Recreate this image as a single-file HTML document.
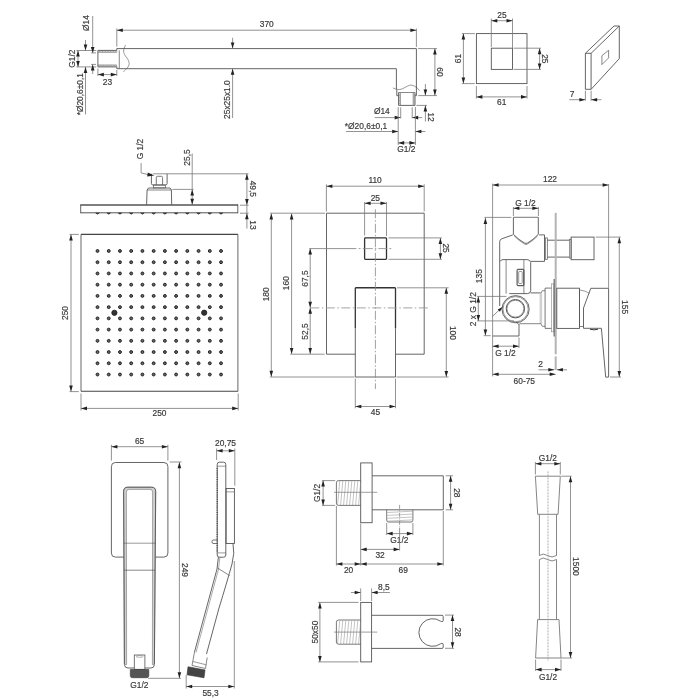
<!DOCTYPE html>
<html><head><meta charset="utf-8"><style>
html,body{margin:0;padding:0;background:#fff;width:700px;height:700px;overflow:hidden}
svg{display:block;will-change:transform}
text{font-family:"Liberation Sans",sans-serif;stroke:#444;stroke-width:0.18px}
</style></head><body>
<svg width="700" height="700" viewBox="0 0 700 700">

<line x1="97.9" y1="50.4" x2="116.8" y2="50.4" stroke="#555" stroke-width="0.9"/>
<line x1="97.9" y1="66.9" x2="116.8" y2="66.9" stroke="#555" stroke-width="0.9"/>
<line x1="97.9" y1="52.3" x2="116.8" y2="52.3" stroke="#555" stroke-width="0.6"/>
<line x1="97.9" y1="65.0" x2="116.8" y2="65.0" stroke="#555" stroke-width="0.6"/>
<line x1="98.5" y1="50.6" x2="99.7" y2="52.1" stroke="#555" stroke-width="0.5"/>
<line x1="98.5" y1="65.2" x2="99.7" y2="66.7" stroke="#555" stroke-width="0.5"/>
<line x1="100.1" y1="50.6" x2="101.3" y2="52.1" stroke="#555" stroke-width="0.5"/>
<line x1="100.1" y1="65.2" x2="101.3" y2="66.7" stroke="#555" stroke-width="0.5"/>
<line x1="101.7" y1="50.6" x2="102.9" y2="52.1" stroke="#555" stroke-width="0.5"/>
<line x1="101.7" y1="65.2" x2="102.9" y2="66.7" stroke="#555" stroke-width="0.5"/>
<line x1="103.3" y1="50.6" x2="104.5" y2="52.1" stroke="#555" stroke-width="0.5"/>
<line x1="103.3" y1="65.2" x2="104.5" y2="66.7" stroke="#555" stroke-width="0.5"/>
<line x1="104.9" y1="50.6" x2="106.10000000000001" y2="52.1" stroke="#555" stroke-width="0.5"/>
<line x1="104.9" y1="65.2" x2="106.10000000000001" y2="66.7" stroke="#555" stroke-width="0.5"/>
<line x1="106.5" y1="50.6" x2="107.7" y2="52.1" stroke="#555" stroke-width="0.5"/>
<line x1="106.5" y1="65.2" x2="107.7" y2="66.7" stroke="#555" stroke-width="0.5"/>
<line x1="108.1" y1="50.6" x2="109.3" y2="52.1" stroke="#555" stroke-width="0.5"/>
<line x1="108.1" y1="65.2" x2="109.3" y2="66.7" stroke="#555" stroke-width="0.5"/>
<line x1="109.7" y1="50.6" x2="110.9" y2="52.1" stroke="#555" stroke-width="0.5"/>
<line x1="109.7" y1="65.2" x2="110.9" y2="66.7" stroke="#555" stroke-width="0.5"/>
<line x1="111.3" y1="50.6" x2="112.5" y2="52.1" stroke="#555" stroke-width="0.5"/>
<line x1="111.3" y1="65.2" x2="112.5" y2="66.7" stroke="#555" stroke-width="0.5"/>
<line x1="112.9" y1="50.6" x2="114.10000000000001" y2="52.1" stroke="#555" stroke-width="0.5"/>
<line x1="112.9" y1="65.2" x2="114.10000000000001" y2="66.7" stroke="#555" stroke-width="0.5"/>
<line x1="114.5" y1="50.6" x2="115.7" y2="52.1" stroke="#555" stroke-width="0.5"/>
<line x1="114.5" y1="65.2" x2="115.7" y2="66.7" stroke="#555" stroke-width="0.5"/>
<line x1="116.1" y1="50.6" x2="117.3" y2="52.1" stroke="#555" stroke-width="0.5"/>
<line x1="116.1" y1="65.2" x2="117.3" y2="66.7" stroke="#555" stroke-width="0.5"/>
<line x1="97.9" y1="50.4" x2="97.9" y2="66.9" stroke="#555" stroke-width="0.9"/>
<line x1="116.8" y1="48.6" x2="116.8" y2="50.4" stroke="#555" stroke-width="0.9"/>
<line x1="116.8" y1="66.9" x2="116.8" y2="68.7" stroke="#555" stroke-width="0.9"/>
<line x1="119.3" y1="50.4" x2="119.3" y2="68.7" stroke="#555" stroke-width="0.7"/>
<line x1="116.8" y1="48.6" x2="416.4" y2="48.6" stroke="#555" stroke-width="0.9"/>
<line x1="116.8" y1="68.7" x2="396.4" y2="68.7" stroke="#555" stroke-width="0.9"/>
<line x1="416.4" y1="48.6" x2="416.4" y2="88" stroke="#555" stroke-width="0.9"/>
<line x1="396.4" y1="68.7" x2="396.4" y2="89.5" stroke="#555" stroke-width="0.9"/>
<path d="M125.5,45 C123,50 123,52.5 125.5,56 C129.5,61 130,64 128,67 C126.5,69 124.5,70.5 123.5,71.8" fill="none" stroke="#555" stroke-width="0.6"/>
<path d="M392.9,87.9 C396,89.5 399,90 402,89 C406,87 409,85 411,85 C414,85.5 417,87 419.6,90.7" fill="none" stroke="#555" stroke-width="0.6"/>
<line x1="396.8" y1="89.6" x2="396.8" y2="95.7" stroke="#555" stroke-width="0.9"/>
<line x1="416.4" y1="87.1" x2="416.4" y2="95.7" stroke="#555" stroke-width="0.9"/>
<line x1="396.8" y1="95.7" x2="398.6" y2="95.7" stroke="#555" stroke-width="0.9"/>
<line x1="415" y1="95.7" x2="416.4" y2="95.7" stroke="#555" stroke-width="0.9"/>
<line x1="398.6" y1="92.5" x2="415" y2="92.5" stroke="#555" stroke-width="0.7"/>
<line x1="398.6" y1="92.5" x2="398.6" y2="105.4" stroke="#555" stroke-width="0.9"/>
<line x1="415" y1="92.5" x2="415" y2="105.4" stroke="#555" stroke-width="0.9"/>
<line x1="398.6" y1="105.4" x2="415" y2="105.4" stroke="#555" stroke-width="0.9"/>
<line x1="400.4" y1="93" x2="400.4" y2="105" stroke="#555" stroke-width="0.6"/>
<line x1="413.2" y1="93" x2="413.2" y2="105" stroke="#555" stroke-width="0.6"/>
<line x1="398.8" y1="93.5" x2="400.2" y2="94.7" stroke="#555" stroke-width="0.5"/>
<line x1="413.4" y1="93.5" x2="414.8" y2="94.7" stroke="#555" stroke-width="0.5"/>
<line x1="398.8" y1="95.1" x2="400.2" y2="96.3" stroke="#555" stroke-width="0.5"/>
<line x1="413.4" y1="95.1" x2="414.8" y2="96.3" stroke="#555" stroke-width="0.5"/>
<line x1="398.8" y1="96.7" x2="400.2" y2="97.9" stroke="#555" stroke-width="0.5"/>
<line x1="413.4" y1="96.7" x2="414.8" y2="97.9" stroke="#555" stroke-width="0.5"/>
<line x1="398.8" y1="98.3" x2="400.2" y2="99.5" stroke="#555" stroke-width="0.5"/>
<line x1="413.4" y1="98.3" x2="414.8" y2="99.5" stroke="#555" stroke-width="0.5"/>
<line x1="398.8" y1="99.9" x2="400.2" y2="101.10000000000001" stroke="#555" stroke-width="0.5"/>
<line x1="413.4" y1="99.9" x2="414.8" y2="101.10000000000001" stroke="#555" stroke-width="0.5"/>
<line x1="398.8" y1="101.5" x2="400.2" y2="102.7" stroke="#555" stroke-width="0.5"/>
<line x1="413.4" y1="101.5" x2="414.8" y2="102.7" stroke="#555" stroke-width="0.5"/>
<line x1="398.8" y1="103.1" x2="400.2" y2="104.3" stroke="#555" stroke-width="0.5"/>
<line x1="413.4" y1="103.1" x2="414.8" y2="104.3" stroke="#555" stroke-width="0.5"/>
<line x1="76.4" y1="50.5" x2="96.3" y2="50.5" stroke="#777" stroke-width="0.8"/>
<line x1="76.4" y1="66.9" x2="96.3" y2="66.9" stroke="#777" stroke-width="0.8"/>
<line x1="78" y1="50.5" x2="78" y2="66.9" stroke="#777" stroke-width="0.8"/>
<polygon points="78.00,50.50 76.20,56.50 79.80,56.50" fill="#222"/>
<polygon points="78.00,66.90 76.20,60.90 79.80,60.90" fill="#222"/>
<text transform="translate(72,58.6) rotate(-90)" x="0" y="3.02" font-size="8.4" text-anchor="middle" fill="#333">G1/2</text>
<line x1="85.5" y1="40" x2="85.5" y2="50.5" stroke="#777" stroke-width="0.8"/>
<polygon points="85.50,50.50 83.70,44.50 87.30,44.50" fill="#222"/>
<line x1="85.5" y1="66.9" x2="85.5" y2="114.4" stroke="#777" stroke-width="0.8"/>
<polygon points="85.50,66.90 83.70,72.90 87.30,72.90" fill="#222"/>
<text transform="translate(79.6,94.2) rotate(-90)" x="0" y="3.02" font-size="8.4" text-anchor="middle" fill="#333">*Ø20,6±0,1</text>
<line x1="91.2" y1="52.9" x2="96" y2="52.9" stroke="#777" stroke-width="0.8"/>
<line x1="91.2" y1="64.4" x2="96" y2="64.4" stroke="#777" stroke-width="0.8"/>
<line x1="92.7" y1="16" x2="92.7" y2="52.9" stroke="#777" stroke-width="0.8"/>
<polygon points="92.70,52.90 90.90,46.90 94.50,46.90" fill="#222"/>
<line x1="92.7" y1="64.4" x2="92.7" y2="74" stroke="#777" stroke-width="0.8"/>
<polygon points="92.70,64.40 90.90,70.40 94.50,70.40" fill="#222"/>
<text transform="translate(86.4,23) rotate(-90)" x="0" y="3.02" font-size="8.4" text-anchor="middle" fill="#333">Ø14</text>
<line x1="97.9" y1="68.5" x2="97.9" y2="76" stroke="#777" stroke-width="0.8"/>
<line x1="116.8" y1="70" x2="116.8" y2="76" stroke="#777" stroke-width="0.8"/>
<line x1="97.9" y1="74.6" x2="116.8" y2="74.6" stroke="#777" stroke-width="0.8"/>
<polygon points="97.90,74.60 103.90,72.80 103.90,76.40" fill="#222"/>
<polygon points="116.80,74.60 110.80,72.80 110.80,76.40" fill="#222"/>
<text x="107.4" y="85.32" font-size="8.4" text-anchor="middle" fill="#333">23</text>
<line x1="116.8" y1="28.5" x2="116.8" y2="46.6" stroke="#777" stroke-width="0.8"/>
<line x1="416.4" y1="28.5" x2="416.4" y2="47" stroke="#777" stroke-width="0.8"/>
<line x1="116.8" y1="30.2" x2="416.4" y2="30.2" stroke="#777" stroke-width="0.8"/>
<polygon points="116.80,30.20 122.80,28.40 122.80,32.00" fill="#222"/>
<polygon points="416.40,30.20 410.40,28.40 410.40,32.00" fill="#222"/>
<text x="266.8" y="27.22" font-size="8.4" text-anchor="middle" fill="#333">370</text>
<line x1="232.6" y1="37.8" x2="232.6" y2="48.6" stroke="#777" stroke-width="0.8"/>
<polygon points="232.60,48.60 230.80,42.60 234.40,42.60" fill="#222"/>
<line x1="232.6" y1="68.7" x2="232.6" y2="118" stroke="#777" stroke-width="0.8"/>
<polygon points="232.60,68.70 230.80,74.70 234.40,74.70" fill="#222"/>
<text transform="translate(227,99.6) rotate(-90)" x="0" y="3.02" font-size="8.4" text-anchor="middle" fill="#333">25x25x1.0</text>
<line x1="418" y1="48.6" x2="437" y2="48.6" stroke="#777" stroke-width="0.8"/>
<line x1="418.2" y1="95.6" x2="437" y2="95.6" stroke="#777" stroke-width="0.8"/>
<line x1="434.9" y1="48.6" x2="434.9" y2="95.6" stroke="#777" stroke-width="0.8"/>
<polygon points="434.90,48.60 433.10,54.60 436.70,54.60" fill="#222"/>
<polygon points="434.90,95.60 433.10,89.60 436.70,89.60" fill="#222"/>
<text transform="translate(440.3,72) rotate(90)" x="0" y="3.02" font-size="8.4" text-anchor="middle" fill="#333">60</text>
<line x1="425.4" y1="84" x2="425.4" y2="95.6" stroke="#777" stroke-width="0.8"/>
<polygon points="425.40,95.60 423.60,89.60 427.20,89.60" fill="#222"/>
<line x1="416.4" y1="105.4" x2="427" y2="105.4" stroke="#777" stroke-width="0.8"/>
<line x1="425.4" y1="105.4" x2="425.4" y2="121.5" stroke="#777" stroke-width="0.8"/>
<polygon points="425.40,105.40 423.60,111.40 427.20,111.40" fill="#222"/>
<text transform="translate(430.7,117.1) rotate(90)" x="0" y="3.02" font-size="8.4" text-anchor="middle" fill="#333">12</text>
<line x1="400.7" y1="107.3" x2="400.7" y2="118.4" stroke="#777" stroke-width="0.8"/>
<line x1="412.2" y1="107.3" x2="412.2" y2="118.4" stroke="#777" stroke-width="0.8"/>
<line x1="374.7" y1="117.6" x2="400.7" y2="117.6" stroke="#777" stroke-width="0.8"/>
<polygon points="400.70,117.60 394.70,115.80 394.70,119.40" fill="#222"/>
<line x1="412.2" y1="117.6" x2="422.3" y2="117.6" stroke="#777" stroke-width="0.8"/>
<polygon points="412.20,117.60 418.20,115.80 418.20,119.40" fill="#222"/>
<text x="381.8" y="114.42" font-size="8.4" text-anchor="middle" fill="#333">Ø14</text>
<line x1="398.2" y1="107.1" x2="398.2" y2="145" stroke="#777" stroke-width="0.8"/>
<line x1="415.4" y1="107.1" x2="415.4" y2="145" stroke="#777" stroke-width="0.8"/>
<line x1="346" y1="131.5" x2="398.2" y2="131.5" stroke="#777" stroke-width="0.8"/>
<polygon points="398.20,131.50 392.20,129.70 392.20,133.30" fill="#222"/>
<line x1="415.4" y1="131.5" x2="425.4" y2="131.5" stroke="#777" stroke-width="0.8"/>
<polygon points="415.40,131.50 421.40,129.70 421.40,133.30" fill="#222"/>
<text x="366" y="128.72" font-size="8.4" text-anchor="middle" fill="#333">*Ø20,6±0,1</text>
<line x1="398.2" y1="142.9" x2="415.4" y2="142.9" stroke="#777" stroke-width="0.8"/>
<polygon points="398.20,142.90 404.20,141.10 404.20,144.70" fill="#222"/>
<polygon points="415.40,142.90 409.40,141.10 409.40,144.70" fill="#222"/>
<text x="406.3" y="151.52" font-size="8.4" text-anchor="middle" fill="#333">G1/2</text>
<rect x="476.4" y="33.6" width="50.60000000000002" height="49.99999999999999" fill="none" stroke="#555" stroke-width="0.9"/>
<rect x="491.3" y="48.2" width="21.19999999999999" height="21.200000000000003" fill="none" stroke="#555" stroke-width="0.9"/>
<line x1="491.3" y1="18.5" x2="491.3" y2="47" stroke="#777" stroke-width="0.8"/>
<line x1="512.5" y1="18.5" x2="512.5" y2="48" stroke="#777" stroke-width="0.8"/>
<line x1="491.3" y1="20.7" x2="512.5" y2="20.7" stroke="#777" stroke-width="0.8"/>
<polygon points="491.30,20.70 497.30,18.90 497.30,22.50" fill="#222"/>
<polygon points="512.50,20.70 506.50,18.90 506.50,22.50" fill="#222"/>
<text x="501.9" y="18.22" font-size="8.4" text-anchor="middle" fill="#333">25</text>
<line x1="513.6" y1="48.2" x2="541" y2="48.2" stroke="#777" stroke-width="0.8"/>
<line x1="513.6" y1="69.4" x2="541" y2="69.4" stroke="#777" stroke-width="0.8"/>
<line x1="539.6" y1="48.2" x2="539.6" y2="69.4" stroke="#777" stroke-width="0.8"/>
<polygon points="539.60,48.20 537.80,54.20 541.40,54.20" fill="#222"/>
<polygon points="539.60,69.40 537.80,63.40 541.40,63.40" fill="#222"/>
<text transform="translate(545,58.8) rotate(90)" x="0" y="3.02" font-size="8.4" text-anchor="middle" fill="#333">25</text>
<line x1="461.8" y1="33.6" x2="474.8" y2="33.6" stroke="#777" stroke-width="0.8"/>
<line x1="461.8" y1="83.6" x2="474.8" y2="83.6" stroke="#777" stroke-width="0.8"/>
<line x1="463.4" y1="33.6" x2="463.4" y2="83.6" stroke="#777" stroke-width="0.8"/>
<polygon points="463.40,33.60 461.60,39.60 465.20,39.60" fill="#222"/>
<polygon points="463.40,83.60 461.60,77.60 465.20,77.60" fill="#222"/>
<text transform="translate(457.9,58.6) rotate(-90)" x="0" y="3.02" font-size="8.4" text-anchor="middle" fill="#333">61</text>
<line x1="476.4" y1="86" x2="476.4" y2="98.5" stroke="#777" stroke-width="0.8"/>
<line x1="527" y1="86" x2="527" y2="98.5" stroke="#777" stroke-width="0.8"/>
<line x1="476.4" y1="96.9" x2="527" y2="96.9" stroke="#777" stroke-width="0.8"/>
<polygon points="476.40,96.90 482.40,95.10 482.40,98.70" fill="#222"/>
<polygon points="527.00,96.90 521.00,95.10 521.00,98.70" fill="#222"/>
<text x="501.7" y="104.82" font-size="8.4" text-anchor="middle" fill="#333">61</text>
<polygon points="585.4,53.3 591.1,53.3 591.1,89.3 585.4,89.3" fill="none" stroke="#555" stroke-width="0.9"/>
<polyline points="585.4,53.3 614,26 619.3,26 591.1,53.3" fill="none" stroke="#555" stroke-width="0.9"/>
<polyline points="619.3,26 619.3,58.6 591.1,89.3" fill="none" stroke="#555" stroke-width="0.9"/>
<polygon points="601.9,55.7 608.6,50.3 608.6,57.9 601.9,64.6" fill="none" stroke="#555" stroke-width="0.7"/>
<line x1="585.4" y1="90.7" x2="585.4" y2="100.7" stroke="#777" stroke-width="0.8"/>
<line x1="591.1" y1="90.7" x2="591.1" y2="100.7" stroke="#777" stroke-width="0.8"/>
<line x1="569.3" y1="99.7" x2="585.4" y2="99.7" stroke="#777" stroke-width="0.8"/>
<polygon points="585.40,99.70 579.40,97.90 579.40,101.50" fill="#222"/>
<line x1="591.1" y1="99.7" x2="601.4" y2="99.7" stroke="#777" stroke-width="0.8"/>
<polygon points="591.10,99.70 597.10,97.90 597.10,101.50" fill="#222"/>
<text x="572" y="96.62" font-size="8.4" text-anchor="middle" fill="#333">7</text>
<line x1="80.5" y1="205" x2="238" y2="205" stroke="#555" stroke-width="1.4"/>
<line x1="80.5" y1="212.8" x2="238" y2="212.8" stroke="#555" stroke-width="1.0"/>
<line x1="80.7" y1="204.5" x2="80.7" y2="213.2" stroke="#555" stroke-width="0.9"/>
<line x1="237.8" y1="204.5" x2="237.8" y2="213.2" stroke="#555" stroke-width="0.9"/>
<path d="M95.7,212.9 Q97.5,215.6 99.3,212.9 Z" fill="#444" stroke="#333" stroke-width="0.5"/>
<path d="M106.93,212.9 Q108.73,215.6 110.53,212.9 Z" fill="#444" stroke="#333" stroke-width="0.5"/>
<path d="M118.16000000000001,212.9 Q119.96000000000001,215.6 121.76,212.9 Z" fill="#444" stroke="#333" stroke-width="0.5"/>
<path d="M129.39,212.9 Q131.19,215.6 132.99,212.9 Z" fill="#444" stroke="#333" stroke-width="0.5"/>
<path d="M140.62,212.9 Q142.42000000000002,215.6 144.22000000000003,212.9 Z" fill="#444" stroke="#333" stroke-width="0.5"/>
<path d="M151.85,212.9 Q153.65,215.6 155.45000000000002,212.9 Z" fill="#444" stroke="#333" stroke-width="0.5"/>
<path d="M163.07999999999998,212.9 Q164.88,215.6 166.68,212.9 Z" fill="#444" stroke="#333" stroke-width="0.5"/>
<path d="M174.31,212.9 Q176.11,215.6 177.91000000000003,212.9 Z" fill="#444" stroke="#333" stroke-width="0.5"/>
<path d="M185.54,212.9 Q187.34,215.6 189.14000000000001,212.9 Z" fill="#444" stroke="#333" stroke-width="0.5"/>
<path d="M196.76999999999998,212.9 Q198.57,215.6 200.37,212.9 Z" fill="#444" stroke="#333" stroke-width="0.5"/>
<path d="M208.0,212.9 Q209.8,215.6 211.60000000000002,212.9 Z" fill="#444" stroke="#333" stroke-width="0.5"/>
<path d="M219.23,212.9 Q221.03,215.6 222.83,212.9 Z" fill="#444" stroke="#333" stroke-width="0.5"/>
<polyline points="146.6,204.7 147.1,190 148.5,188 170,188 171.4,190 171.7,204.7" fill="none" stroke="#555" stroke-width="0.9"/>
<line x1="147.1" y1="190" x2="171.4" y2="190" stroke="#555" stroke-width="0.7"/>
<rect x="153.4" y="185.1" width="12.0" height="2.8000000000000114" fill="none" stroke="#555" stroke-width="0.7"/>
<path d="M151.4,173.8 L151.4,183.5 Q151.4,184.9 152.8,184.9 L165.7,184.9 Q167.1,184.9 167.1,183.5 L167.1,173.8" fill="none" stroke="#555" stroke-width="0.9"/>
<path d="M156.3,184.9 L156.3,177.5 Q156.3,176.3 157.5,176.3 L161.4,176.3 Q162.6,176.3 162.6,177.5 L162.6,184.9" fill="none" stroke="#555" stroke-width="0.8"/>
<line x1="141.1" y1="163" x2="141.1" y2="172.9" stroke="#777" stroke-width="0.8"/>
<line x1="141.1" y1="172.9" x2="149" y2="174.8" stroke="#777" stroke-width="0.8"/>
<polygon points="154.3,175.6 147.8,172.6 147.2,176.6" fill="#222"/>
<text transform="translate(140.4,149) rotate(-90)" x="0" y="3.02" font-size="8.4" text-anchor="middle" fill="#333">G 1/2</text>
<line x1="153" y1="173.8" x2="248.5" y2="173.8" stroke="#777" stroke-width="0.8"/>
<line x1="172.3" y1="189.4" x2="193.5" y2="189.4" stroke="#777" stroke-width="0.8"/>
<line x1="192.2" y1="153.5" x2="192.2" y2="204.7" stroke="#777" stroke-width="0.8"/>
<polygon points="192.20,189.40 190.40,195.40 194.00,195.40" fill="#222"/>
<polygon points="192.20,204.70 190.40,198.70 194.00,198.70" fill="#222"/>
<text transform="translate(187,157.5) rotate(-90)" x="0" y="3.02" font-size="8.4" text-anchor="middle" fill="#333">25,5</text>
<line x1="240" y1="205.2" x2="248.6" y2="205.2" stroke="#777" stroke-width="0.8"/>
<line x1="240" y1="213.2" x2="248.6" y2="213.2" stroke="#777" stroke-width="0.8"/>
<line x1="246.9" y1="205" x2="246.9" y2="213.3" stroke="#777" stroke-width="0.8"/>
<line x1="246.9" y1="173.8" x2="246.9" y2="205" stroke="#777" stroke-width="0.8"/>
<polygon points="246.90,173.80 245.10,179.80 248.70,179.80" fill="#222"/>
<polygon points="246.90,205.00 245.10,199.00 248.70,199.00" fill="#222"/>
<line x1="246.9" y1="213.3" x2="246.9" y2="228.6" stroke="#777" stroke-width="0.8"/>
<polygon points="246.90,213.30 245.10,219.30 248.70,219.30" fill="#222"/>
<text transform="translate(252.6,188.8) rotate(90)" x="0" y="3.02" font-size="8.4" text-anchor="middle" fill="#333">49,5</text>
<text transform="translate(252.6,225) rotate(90)" x="0" y="3.02" font-size="8.4" text-anchor="middle" fill="#333">13</text>
<line x1="81" y1="234.4" x2="237.9" y2="234.4" stroke="#444" stroke-width="1.1"/>
<line x1="81" y1="391.3" x2="237.9" y2="391.3" stroke="#444" stroke-width="1.1"/>
<line x1="81" y1="234.4" x2="81" y2="391.3" stroke="#555" stroke-width="0.9"/>
<line x1="237.9" y1="234.4" x2="237.9" y2="391.3" stroke="#555" stroke-width="0.9"/>
<circle cx="97.5" cy="251.0" r="1.45" fill="#666" stroke="#222" stroke-width="1.0"/>
<circle cx="108.73" cy="251.0" r="1.45" fill="#666" stroke="#222" stroke-width="1.0"/>
<circle cx="119.96000000000001" cy="251.0" r="1.45" fill="#666" stroke="#222" stroke-width="1.0"/>
<circle cx="131.19" cy="251.0" r="1.45" fill="#666" stroke="#222" stroke-width="1.0"/>
<circle cx="142.42000000000002" cy="251.0" r="1.45" fill="#666" stroke="#222" stroke-width="1.0"/>
<circle cx="153.65" cy="251.0" r="1.45" fill="#666" stroke="#222" stroke-width="1.0"/>
<circle cx="164.88" cy="251.0" r="1.45" fill="#666" stroke="#222" stroke-width="1.0"/>
<circle cx="176.11" cy="251.0" r="1.45" fill="#666" stroke="#222" stroke-width="1.0"/>
<circle cx="187.34" cy="251.0" r="1.45" fill="#666" stroke="#222" stroke-width="1.0"/>
<circle cx="198.57" cy="251.0" r="1.45" fill="#666" stroke="#222" stroke-width="1.0"/>
<circle cx="209.8" cy="251.0" r="1.45" fill="#666" stroke="#222" stroke-width="1.0"/>
<circle cx="221.03" cy="251.0" r="1.45" fill="#666" stroke="#222" stroke-width="1.0"/>
<circle cx="97.5" cy="262.23" r="1.45" fill="#666" stroke="#222" stroke-width="1.0"/>
<circle cx="108.73" cy="262.23" r="1.45" fill="#666" stroke="#222" stroke-width="1.0"/>
<circle cx="119.96000000000001" cy="262.23" r="1.45" fill="#666" stroke="#222" stroke-width="1.0"/>
<circle cx="131.19" cy="262.23" r="1.45" fill="#666" stroke="#222" stroke-width="1.0"/>
<circle cx="142.42000000000002" cy="262.23" r="1.45" fill="#666" stroke="#222" stroke-width="1.0"/>
<circle cx="153.65" cy="262.23" r="1.45" fill="#666" stroke="#222" stroke-width="1.0"/>
<circle cx="164.88" cy="262.23" r="1.45" fill="#666" stroke="#222" stroke-width="1.0"/>
<circle cx="176.11" cy="262.23" r="1.45" fill="#666" stroke="#222" stroke-width="1.0"/>
<circle cx="187.34" cy="262.23" r="1.45" fill="#666" stroke="#222" stroke-width="1.0"/>
<circle cx="198.57" cy="262.23" r="1.45" fill="#666" stroke="#222" stroke-width="1.0"/>
<circle cx="209.8" cy="262.23" r="1.45" fill="#666" stroke="#222" stroke-width="1.0"/>
<circle cx="221.03" cy="262.23" r="1.45" fill="#666" stroke="#222" stroke-width="1.0"/>
<circle cx="97.5" cy="273.46" r="1.45" fill="#666" stroke="#222" stroke-width="1.0"/>
<circle cx="108.73" cy="273.46" r="1.45" fill="#666" stroke="#222" stroke-width="1.0"/>
<circle cx="119.96000000000001" cy="273.46" r="1.45" fill="#666" stroke="#222" stroke-width="1.0"/>
<circle cx="131.19" cy="273.46" r="1.45" fill="#666" stroke="#222" stroke-width="1.0"/>
<circle cx="142.42000000000002" cy="273.46" r="1.45" fill="#666" stroke="#222" stroke-width="1.0"/>
<circle cx="153.65" cy="273.46" r="1.45" fill="#666" stroke="#222" stroke-width="1.0"/>
<circle cx="164.88" cy="273.46" r="1.45" fill="#666" stroke="#222" stroke-width="1.0"/>
<circle cx="176.11" cy="273.46" r="1.45" fill="#666" stroke="#222" stroke-width="1.0"/>
<circle cx="187.34" cy="273.46" r="1.45" fill="#666" stroke="#222" stroke-width="1.0"/>
<circle cx="198.57" cy="273.46" r="1.45" fill="#666" stroke="#222" stroke-width="1.0"/>
<circle cx="209.8" cy="273.46" r="1.45" fill="#666" stroke="#222" stroke-width="1.0"/>
<circle cx="221.03" cy="273.46" r="1.45" fill="#666" stroke="#222" stroke-width="1.0"/>
<circle cx="97.5" cy="284.69" r="1.45" fill="#666" stroke="#222" stroke-width="1.0"/>
<circle cx="108.73" cy="284.69" r="1.45" fill="#666" stroke="#222" stroke-width="1.0"/>
<circle cx="119.96000000000001" cy="284.69" r="1.45" fill="#666" stroke="#222" stroke-width="1.0"/>
<circle cx="131.19" cy="284.69" r="1.45" fill="#666" stroke="#222" stroke-width="1.0"/>
<circle cx="142.42000000000002" cy="284.69" r="1.45" fill="#666" stroke="#222" stroke-width="1.0"/>
<circle cx="153.65" cy="284.69" r="1.45" fill="#666" stroke="#222" stroke-width="1.0"/>
<circle cx="164.88" cy="284.69" r="1.45" fill="#666" stroke="#222" stroke-width="1.0"/>
<circle cx="176.11" cy="284.69" r="1.45" fill="#666" stroke="#222" stroke-width="1.0"/>
<circle cx="187.34" cy="284.69" r="1.45" fill="#666" stroke="#222" stroke-width="1.0"/>
<circle cx="198.57" cy="284.69" r="1.45" fill="#666" stroke="#222" stroke-width="1.0"/>
<circle cx="209.8" cy="284.69" r="1.45" fill="#666" stroke="#222" stroke-width="1.0"/>
<circle cx="221.03" cy="284.69" r="1.45" fill="#666" stroke="#222" stroke-width="1.0"/>
<circle cx="97.5" cy="295.92" r="1.45" fill="#666" stroke="#222" stroke-width="1.0"/>
<circle cx="108.73" cy="295.92" r="1.45" fill="#666" stroke="#222" stroke-width="1.0"/>
<circle cx="119.96000000000001" cy="295.92" r="1.45" fill="#666" stroke="#222" stroke-width="1.0"/>
<circle cx="131.19" cy="295.92" r="1.45" fill="#666" stroke="#222" stroke-width="1.0"/>
<circle cx="142.42000000000002" cy="295.92" r="1.45" fill="#666" stroke="#222" stroke-width="1.0"/>
<circle cx="153.65" cy="295.92" r="1.45" fill="#666" stroke="#222" stroke-width="1.0"/>
<circle cx="164.88" cy="295.92" r="1.45" fill="#666" stroke="#222" stroke-width="1.0"/>
<circle cx="176.11" cy="295.92" r="1.45" fill="#666" stroke="#222" stroke-width="1.0"/>
<circle cx="187.34" cy="295.92" r="1.45" fill="#666" stroke="#222" stroke-width="1.0"/>
<circle cx="198.57" cy="295.92" r="1.45" fill="#666" stroke="#222" stroke-width="1.0"/>
<circle cx="209.8" cy="295.92" r="1.45" fill="#666" stroke="#222" stroke-width="1.0"/>
<circle cx="221.03" cy="295.92" r="1.45" fill="#666" stroke="#222" stroke-width="1.0"/>
<circle cx="97.5" cy="307.15" r="1.45" fill="#666" stroke="#222" stroke-width="1.0"/>
<circle cx="108.73" cy="307.15" r="1.45" fill="#666" stroke="#222" stroke-width="1.0"/>
<circle cx="119.96000000000001" cy="307.15" r="1.45" fill="#666" stroke="#222" stroke-width="1.0"/>
<circle cx="131.19" cy="307.15" r="1.45" fill="#666" stroke="#222" stroke-width="1.0"/>
<circle cx="142.42000000000002" cy="307.15" r="1.45" fill="#666" stroke="#222" stroke-width="1.0"/>
<circle cx="153.65" cy="307.15" r="1.45" fill="#666" stroke="#222" stroke-width="1.0"/>
<circle cx="164.88" cy="307.15" r="1.45" fill="#666" stroke="#222" stroke-width="1.0"/>
<circle cx="176.11" cy="307.15" r="1.45" fill="#666" stroke="#222" stroke-width="1.0"/>
<circle cx="187.34" cy="307.15" r="1.45" fill="#666" stroke="#222" stroke-width="1.0"/>
<circle cx="198.57" cy="307.15" r="1.45" fill="#666" stroke="#222" stroke-width="1.0"/>
<circle cx="209.8" cy="307.15" r="1.45" fill="#666" stroke="#222" stroke-width="1.0"/>
<circle cx="221.03" cy="307.15" r="1.45" fill="#666" stroke="#222" stroke-width="1.0"/>
<circle cx="97.5" cy="318.38" r="1.45" fill="#666" stroke="#222" stroke-width="1.0"/>
<circle cx="108.73" cy="318.38" r="1.45" fill="#666" stroke="#222" stroke-width="1.0"/>
<circle cx="119.96000000000001" cy="318.38" r="1.45" fill="#666" stroke="#222" stroke-width="1.0"/>
<circle cx="131.19" cy="318.38" r="1.45" fill="#666" stroke="#222" stroke-width="1.0"/>
<circle cx="142.42000000000002" cy="318.38" r="1.45" fill="#666" stroke="#222" stroke-width="1.0"/>
<circle cx="153.65" cy="318.38" r="1.45" fill="#666" stroke="#222" stroke-width="1.0"/>
<circle cx="164.88" cy="318.38" r="1.45" fill="#666" stroke="#222" stroke-width="1.0"/>
<circle cx="176.11" cy="318.38" r="1.45" fill="#666" stroke="#222" stroke-width="1.0"/>
<circle cx="187.34" cy="318.38" r="1.45" fill="#666" stroke="#222" stroke-width="1.0"/>
<circle cx="198.57" cy="318.38" r="1.45" fill="#666" stroke="#222" stroke-width="1.0"/>
<circle cx="209.8" cy="318.38" r="1.45" fill="#666" stroke="#222" stroke-width="1.0"/>
<circle cx="221.03" cy="318.38" r="1.45" fill="#666" stroke="#222" stroke-width="1.0"/>
<circle cx="97.5" cy="329.61" r="1.45" fill="#666" stroke="#222" stroke-width="1.0"/>
<circle cx="108.73" cy="329.61" r="1.45" fill="#666" stroke="#222" stroke-width="1.0"/>
<circle cx="119.96000000000001" cy="329.61" r="1.45" fill="#666" stroke="#222" stroke-width="1.0"/>
<circle cx="131.19" cy="329.61" r="1.45" fill="#666" stroke="#222" stroke-width="1.0"/>
<circle cx="142.42000000000002" cy="329.61" r="1.45" fill="#666" stroke="#222" stroke-width="1.0"/>
<circle cx="153.65" cy="329.61" r="1.45" fill="#666" stroke="#222" stroke-width="1.0"/>
<circle cx="164.88" cy="329.61" r="1.45" fill="#666" stroke="#222" stroke-width="1.0"/>
<circle cx="176.11" cy="329.61" r="1.45" fill="#666" stroke="#222" stroke-width="1.0"/>
<circle cx="187.34" cy="329.61" r="1.45" fill="#666" stroke="#222" stroke-width="1.0"/>
<circle cx="198.57" cy="329.61" r="1.45" fill="#666" stroke="#222" stroke-width="1.0"/>
<circle cx="209.8" cy="329.61" r="1.45" fill="#666" stroke="#222" stroke-width="1.0"/>
<circle cx="221.03" cy="329.61" r="1.45" fill="#666" stroke="#222" stroke-width="1.0"/>
<circle cx="97.5" cy="340.84000000000003" r="1.45" fill="#666" stroke="#222" stroke-width="1.0"/>
<circle cx="108.73" cy="340.84000000000003" r="1.45" fill="#666" stroke="#222" stroke-width="1.0"/>
<circle cx="119.96000000000001" cy="340.84000000000003" r="1.45" fill="#666" stroke="#222" stroke-width="1.0"/>
<circle cx="131.19" cy="340.84000000000003" r="1.45" fill="#666" stroke="#222" stroke-width="1.0"/>
<circle cx="142.42000000000002" cy="340.84000000000003" r="1.45" fill="#666" stroke="#222" stroke-width="1.0"/>
<circle cx="153.65" cy="340.84000000000003" r="1.45" fill="#666" stroke="#222" stroke-width="1.0"/>
<circle cx="164.88" cy="340.84000000000003" r="1.45" fill="#666" stroke="#222" stroke-width="1.0"/>
<circle cx="176.11" cy="340.84000000000003" r="1.45" fill="#666" stroke="#222" stroke-width="1.0"/>
<circle cx="187.34" cy="340.84000000000003" r="1.45" fill="#666" stroke="#222" stroke-width="1.0"/>
<circle cx="198.57" cy="340.84000000000003" r="1.45" fill="#666" stroke="#222" stroke-width="1.0"/>
<circle cx="209.8" cy="340.84000000000003" r="1.45" fill="#666" stroke="#222" stroke-width="1.0"/>
<circle cx="221.03" cy="340.84000000000003" r="1.45" fill="#666" stroke="#222" stroke-width="1.0"/>
<circle cx="97.5" cy="352.07" r="1.45" fill="#666" stroke="#222" stroke-width="1.0"/>
<circle cx="108.73" cy="352.07" r="1.45" fill="#666" stroke="#222" stroke-width="1.0"/>
<circle cx="119.96000000000001" cy="352.07" r="1.45" fill="#666" stroke="#222" stroke-width="1.0"/>
<circle cx="131.19" cy="352.07" r="1.45" fill="#666" stroke="#222" stroke-width="1.0"/>
<circle cx="142.42000000000002" cy="352.07" r="1.45" fill="#666" stroke="#222" stroke-width="1.0"/>
<circle cx="153.65" cy="352.07" r="1.45" fill="#666" stroke="#222" stroke-width="1.0"/>
<circle cx="164.88" cy="352.07" r="1.45" fill="#666" stroke="#222" stroke-width="1.0"/>
<circle cx="176.11" cy="352.07" r="1.45" fill="#666" stroke="#222" stroke-width="1.0"/>
<circle cx="187.34" cy="352.07" r="1.45" fill="#666" stroke="#222" stroke-width="1.0"/>
<circle cx="198.57" cy="352.07" r="1.45" fill="#666" stroke="#222" stroke-width="1.0"/>
<circle cx="209.8" cy="352.07" r="1.45" fill="#666" stroke="#222" stroke-width="1.0"/>
<circle cx="221.03" cy="352.07" r="1.45" fill="#666" stroke="#222" stroke-width="1.0"/>
<circle cx="97.5" cy="363.3" r="1.45" fill="#666" stroke="#222" stroke-width="1.0"/>
<circle cx="108.73" cy="363.3" r="1.45" fill="#666" stroke="#222" stroke-width="1.0"/>
<circle cx="119.96000000000001" cy="363.3" r="1.45" fill="#666" stroke="#222" stroke-width="1.0"/>
<circle cx="131.19" cy="363.3" r="1.45" fill="#666" stroke="#222" stroke-width="1.0"/>
<circle cx="142.42000000000002" cy="363.3" r="1.45" fill="#666" stroke="#222" stroke-width="1.0"/>
<circle cx="153.65" cy="363.3" r="1.45" fill="#666" stroke="#222" stroke-width="1.0"/>
<circle cx="164.88" cy="363.3" r="1.45" fill="#666" stroke="#222" stroke-width="1.0"/>
<circle cx="176.11" cy="363.3" r="1.45" fill="#666" stroke="#222" stroke-width="1.0"/>
<circle cx="187.34" cy="363.3" r="1.45" fill="#666" stroke="#222" stroke-width="1.0"/>
<circle cx="198.57" cy="363.3" r="1.45" fill="#666" stroke="#222" stroke-width="1.0"/>
<circle cx="209.8" cy="363.3" r="1.45" fill="#666" stroke="#222" stroke-width="1.0"/>
<circle cx="221.03" cy="363.3" r="1.45" fill="#666" stroke="#222" stroke-width="1.0"/>
<circle cx="97.5" cy="374.53" r="1.45" fill="#666" stroke="#222" stroke-width="1.0"/>
<circle cx="108.73" cy="374.53" r="1.45" fill="#666" stroke="#222" stroke-width="1.0"/>
<circle cx="119.96000000000001" cy="374.53" r="1.45" fill="#666" stroke="#222" stroke-width="1.0"/>
<circle cx="131.19" cy="374.53" r="1.45" fill="#666" stroke="#222" stroke-width="1.0"/>
<circle cx="142.42000000000002" cy="374.53" r="1.45" fill="#666" stroke="#222" stroke-width="1.0"/>
<circle cx="153.65" cy="374.53" r="1.45" fill="#666" stroke="#222" stroke-width="1.0"/>
<circle cx="164.88" cy="374.53" r="1.45" fill="#666" stroke="#222" stroke-width="1.0"/>
<circle cx="176.11" cy="374.53" r="1.45" fill="#666" stroke="#222" stroke-width="1.0"/>
<circle cx="187.34" cy="374.53" r="1.45" fill="#666" stroke="#222" stroke-width="1.0"/>
<circle cx="198.57" cy="374.53" r="1.45" fill="#666" stroke="#222" stroke-width="1.0"/>
<circle cx="209.8" cy="374.53" r="1.45" fill="#666" stroke="#222" stroke-width="1.0"/>
<circle cx="221.03" cy="374.53" r="1.45" fill="#666" stroke="#222" stroke-width="1.0"/>
<circle cx="114.4" cy="312.8" r="2.6" fill="#333" stroke="#222" stroke-width="0.9"/>
<circle cx="204.2" cy="312.7" r="2.6" fill="#333" stroke="#222" stroke-width="0.9"/>
<line x1="69.5" y1="234.4" x2="78.8" y2="234.4" stroke="#777" stroke-width="0.8"/>
<line x1="69.5" y1="391.6" x2="78.8" y2="391.6" stroke="#777" stroke-width="0.8"/>
<line x1="71" y1="234.4" x2="71" y2="391.6" stroke="#777" stroke-width="0.8"/>
<polygon points="71.00,234.40 69.20,240.40 72.80,240.40" fill="#222"/>
<polygon points="71.00,391.60 69.20,385.60 72.80,385.60" fill="#222"/>
<text transform="translate(65,313) rotate(-90)" x="0" y="3.02" font-size="8.4" text-anchor="middle" fill="#333">250</text>
<line x1="81" y1="393.5" x2="81" y2="410.5" stroke="#777" stroke-width="0.8"/>
<line x1="238.2" y1="393.5" x2="238.2" y2="410.5" stroke="#777" stroke-width="0.8"/>
<line x1="81" y1="408.4" x2="238.2" y2="408.4" stroke="#777" stroke-width="0.8"/>
<polygon points="81.00,408.40 87.00,406.60 87.00,410.20" fill="#222"/>
<polygon points="238.20,408.40 232.20,406.60 232.20,410.20" fill="#222"/>
<text x="159.5" y="416.02" font-size="8.4" text-anchor="middle" fill="#333">250</text>
<line x1="326.5" y1="213.2" x2="424.2" y2="213.2" stroke="#555" stroke-width="0.9"/>
<line x1="326.5" y1="213.2" x2="326.5" y2="354.2" stroke="#555" stroke-width="0.9"/>
<line x1="424.2" y1="213.2" x2="424.2" y2="354.2" stroke="#555" stroke-width="0.9"/>
<line x1="326.5" y1="354.2" x2="355.3" y2="354.2" stroke="#555" stroke-width="0.9"/>
<line x1="395.5" y1="354.2" x2="424.2" y2="354.2" stroke="#555" stroke-width="0.9"/>
<rect x="364.6" y="237.9" width="21.899999999999977" height="21.400000000000006" rx="0.8" fill="none" stroke="#333" stroke-width="1.3"/>
<line x1="355.3" y1="287.8" x2="395.5" y2="287.8" stroke="#333" stroke-width="1.4"/>
<line x1="355.3" y1="287.8" x2="355.3" y2="328.3" stroke="#333" stroke-width="1.3"/>
<line x1="395.5" y1="287.8" x2="395.5" y2="328.3" stroke="#333" stroke-width="1.3"/>
<line x1="355.3" y1="328.3" x2="355.3" y2="377" stroke="#555" stroke-width="0.9"/>
<line x1="395.5" y1="328.3" x2="395.5" y2="377" stroke="#555" stroke-width="0.9"/>
<line x1="355.3" y1="377" x2="395.5" y2="377" stroke="#555" stroke-width="0.9"/>
<line x1="375.4" y1="209.3" x2="375.4" y2="389" stroke="#888" stroke-width="0.8" stroke-dasharray="9 2 1.5 2"/>
<line x1="310.3" y1="307.9" x2="430.3" y2="307.9" stroke="#999" stroke-width="0.9" stroke-dasharray="9 2.5 1.5 2.5"/>
<line x1="309.3" y1="248.6" x2="356.4" y2="248.6" stroke="#777" stroke-width="0.8"/>
<line x1="358.6" y1="248.6" x2="391.4" y2="248.6" stroke="#888" stroke-width="0.8" stroke-dasharray="2 2.2 10 2 1.5 2 9 2"/>
<line x1="326.4" y1="184.3" x2="326.4" y2="211.5" stroke="#777" stroke-width="0.8"/>
<line x1="424.2" y1="184.3" x2="424.2" y2="211.5" stroke="#777" stroke-width="0.8"/>
<line x1="326.4" y1="186.2" x2="424.2" y2="186.2" stroke="#777" stroke-width="0.8"/>
<polygon points="326.40,186.20 332.40,184.40 332.40,188.00" fill="#222"/>
<polygon points="424.20,186.20 418.20,184.40 418.20,188.00" fill="#222"/>
<text x="375.1" y="183.22" font-size="8.4" text-anchor="middle" fill="#333">110</text>
<line x1="364.6" y1="202" x2="364.6" y2="235.5" stroke="#777" stroke-width="0.8"/>
<line x1="386.5" y1="202" x2="386.5" y2="236" stroke="#777" stroke-width="0.8"/>
<line x1="364.6" y1="203.3" x2="386.5" y2="203.3" stroke="#777" stroke-width="0.8"/>
<polygon points="364.60,203.30 370.60,201.50 370.60,205.10" fill="#222"/>
<polygon points="386.50,203.30 380.50,201.50 380.50,205.10" fill="#222"/>
<text x="375.3" y="200.52" font-size="8.4" text-anchor="middle" fill="#333">25</text>
<line x1="388.5" y1="237.9" x2="441.9" y2="237.9" stroke="#777" stroke-width="0.8"/>
<line x1="388.5" y1="259.3" x2="441.9" y2="259.3" stroke="#777" stroke-width="0.8"/>
<line x1="440.4" y1="237.9" x2="440.4" y2="259.3" stroke="#777" stroke-width="0.8"/>
<polygon points="440.40,237.90 438.60,243.90 442.20,243.90" fill="#222"/>
<polygon points="440.40,259.30 438.60,253.30 442.20,253.30" fill="#222"/>
<text transform="translate(445.9,248.1) rotate(90)" x="0" y="3.02" font-size="8.4" text-anchor="middle" fill="#333">25</text>
<line x1="397.1" y1="287.8" x2="448.6" y2="287.8" stroke="#777" stroke-width="0.8"/>
<line x1="396.5" y1="377" x2="448.6" y2="377" stroke="#777" stroke-width="0.8"/>
<line x1="446.3" y1="287.8" x2="446.3" y2="377" stroke="#777" stroke-width="0.8"/>
<polygon points="446.30,287.80 444.50,293.80 448.10,293.80" fill="#222"/>
<polygon points="446.30,377.00 444.50,371.00 448.10,371.00" fill="#222"/>
<text transform="translate(452.7,332.9) rotate(90)" x="0" y="3.02" font-size="8.4" text-anchor="middle" fill="#333">100</text>
<line x1="355.3" y1="378.6" x2="355.3" y2="408.3" stroke="#777" stroke-width="0.8"/>
<line x1="395.5" y1="378.6" x2="395.5" y2="408.3" stroke="#777" stroke-width="0.8"/>
<line x1="355.3" y1="406.5" x2="395.5" y2="406.5" stroke="#777" stroke-width="0.8"/>
<polygon points="355.30,406.50 361.30,404.70 361.30,408.30" fill="#222"/>
<polygon points="395.50,406.50 389.50,404.70 389.50,408.30" fill="#222"/>
<text x="375.4" y="414.52" font-size="8.4" text-anchor="middle" fill="#333">45</text>
<line x1="270" y1="213.2" x2="325" y2="213.2" stroke="#777" stroke-width="0.8"/>
<line x1="269.8" y1="377" x2="354.4" y2="377" stroke="#777" stroke-width="0.8"/>
<line x1="290.3" y1="354.2" x2="324.6" y2="354.2" stroke="#777" stroke-width="0.8"/>
<line x1="271.3" y1="213.6" x2="271.3" y2="376.8" stroke="#777" stroke-width="0.8"/>
<polygon points="271.30,213.60 269.50,219.60 273.10,219.60" fill="#222"/>
<polygon points="271.30,376.80 269.50,370.80 273.10,370.80" fill="#222"/>
<text transform="translate(265.6,294.3) rotate(-90)" x="0" y="3.02" font-size="8.4" text-anchor="middle" fill="#333">180</text>
<line x1="291.6" y1="213.6" x2="291.6" y2="353.9" stroke="#777" stroke-width="0.8"/>
<polygon points="291.60,213.60 289.80,219.60 293.40,219.60" fill="#222"/>
<polygon points="291.60,353.90 289.80,347.90 293.40,347.90" fill="#222"/>
<text transform="translate(286.2,283.2) rotate(-90)" x="0" y="3.02" font-size="8.4" text-anchor="middle" fill="#333">160</text>
<line x1="310.2" y1="248.6" x2="310.2" y2="307.8" stroke="#777" stroke-width="0.8"/>
<polygon points="310.20,248.60 308.40,254.60 312.00,254.60" fill="#222"/>
<polygon points="310.20,307.80 308.40,301.80 312.00,301.80" fill="#222"/>
<text transform="translate(305.1,278.6) rotate(-90)" x="0" y="3.02" font-size="8.4" text-anchor="middle" fill="#333">67,5</text>
<line x1="310.2" y1="307.8" x2="310.2" y2="353.9" stroke="#777" stroke-width="0.8"/>
<polygon points="310.20,307.80 308.40,313.80 312.00,313.80" fill="#222"/>
<polygon points="310.20,353.90 308.40,347.90 312.00,347.90" fill="#222"/>
<text transform="translate(305.1,331.5) rotate(-90)" x="0" y="3.02" font-size="8.4" text-anchor="middle" fill="#333">52,5</text>
<line x1="513.4" y1="217.3" x2="538.3" y2="217.3" stroke="#555" stroke-width="0.8"/>
<line x1="513.4" y1="217.3" x2="513.4" y2="234.4" stroke="#555" stroke-width="0.9"/>
<line x1="538.3" y1="217.3" x2="538.3" y2="234.4" stroke="#555" stroke-width="0.9"/>
<path d="M513.4,234.4 Q519,240 524.5,243 Q526,243.8 527.5,243 Q533,240 538.3,234.4" fill="none" stroke="#555" stroke-width="0.9"/>
<path d="M514.2,236 Q519.5,241.2 524.8,244.2 Q526,244.9 527.2,244.2 Q532.5,241.2 537.6,236" fill="none" stroke="#555" stroke-width="0.6"/>
<path d="M499.7,306 L499.7,241.5 Q499.7,239.5 502,238.7 L512.8,234.9" fill="none" stroke="#555" stroke-width="0.9"/>
<path d="M539.1,234.9 L544.5,234.9 L544.5,261.4 L531,261.4" fill="none" stroke="#555" stroke-width="0.9"/>
<rect x="545.3" y="237.9" width="2.0" height="21.400000000000006" fill="none" stroke="#555" stroke-width="0.7"/>
<line x1="547.3" y1="240.2" x2="569.3" y2="240.2" stroke="#555" stroke-width="0.9"/>
<line x1="547.3" y1="257.1" x2="569.3" y2="257.1" stroke="#555" stroke-width="0.9"/>
<rect x="569.3" y="239.2" width="1.8000000000000682" height="18.900000000000034" fill="none" stroke="#555" stroke-width="0.6"/>
<rect x="571.1" y="237.1" width="22.899999999999977" height="22.599999999999994" fill="none" stroke="#555" stroke-width="0.9"/>
<path d="M500,261.5 Q501,259.6 503,259.6 L527.1,259.6 Q530.7,259.8 530.7,262.5 L530.7,290.5 Q530.7,293.6 527.5,293.6 L509.3,293.6" fill="none" stroke="#555" stroke-width="0.9"/>
<line x1="506.1" y1="260" x2="506.1" y2="293.6" stroke="#555" stroke-width="0.7"/>
<line x1="523.9" y1="260" x2="523.9" y2="293.6" stroke="#555" stroke-width="0.7"/>
<rect x="517.1" y="269.3" width="6.7999999999999545" height="16.399999999999977" rx="0.8" fill="none" stroke="#333" stroke-width="1.0"/>
<rect x="518.7" y="271.5" width="3.5" height="12.0" rx="0.6" fill="none" stroke="#555" stroke-width="0.6"/>
<line x1="530.7" y1="292.9" x2="540.7" y2="292.9" stroke="#555" stroke-width="0.9"/>
<circle cx="515.6" cy="309.2" r="13.6" fill="none" stroke="#555" stroke-width="0.9"/>
<circle cx="515.6" cy="309.2" r="12.6" fill="none" stroke="#555" stroke-width="0.6"/>
<circle cx="515.4" cy="308.7" r="9.2" fill="none" stroke="#555" stroke-width="1.0"/>
<circle cx="515.4" cy="308.7" r="8.4" fill="none" stroke="#555" stroke-width="0.6"/>
<line x1="492.6" y1="336" x2="519" y2="336" stroke="#555" stroke-width="0.9"/>
<line x1="519" y1="324" x2="519" y2="336" stroke="#555" stroke-width="0.9"/>
<path d="M515.5,321.8 L519,324.5" fill="none" stroke="#555" stroke-width="0.7"/>
<rect x="539.6" y="293.3" width="2.5" height="30.4" fill="#d0d0d0"/>
<path d="M519.5,323.7 L540.9,323.7 L542.3,326.3 L545.1,326.3" fill="none" stroke="#555" stroke-width="0.7"/>
<path d="M540.9,293.3 L542.3,290.7 L545.1,290.7" fill="none" stroke="#555" stroke-width="0.7"/>
<line x1="545.1" y1="288.1" x2="545.1" y2="328.4" stroke="#555" stroke-width="0.8"/>
<line x1="545.1" y1="288.1" x2="551.6" y2="288.1" stroke="#555" stroke-width="0.8"/>
<line x1="545.1" y1="328.4" x2="551.6" y2="328.4" stroke="#555" stroke-width="0.8"/>
<rect x="551.6" y="283.9" width="2.2999999999999545" height="47.900000000000034" fill="none" stroke="#888" stroke-width="0.6"/>
<line x1="554.2" y1="279" x2="554.2" y2="336.5" stroke="#333" stroke-width="1.0"/>
<rect x="554.7" y="212.9" width="2.0" height="141.4" fill="#b4b4b4"/>
<rect x="554.7" y="356.4" width="2.0" height="13.6" fill="#b4b4b4"/>
<rect x="556.8" y="288.2" width="22.700000000000045" height="40.19999999999999" fill="none" stroke="#555" stroke-width="0.9"/>
<path d="M579.5,290 L579.5,326.5 L583.5,326.5" fill="none" stroke="#555" stroke-width="0.7"/>
<path d="M579.5,290 Q585,290.5 589.5,293.3" fill="none" stroke="#555" stroke-width="0.6"/>
<path d="M590.8,288.3 L608.6,288.3 L608.6,377.1 L605.7,377.1 L601.4,328.3 L583.5,328.3 L583.5,308 Z" fill="none" stroke="#555" stroke-width="0.9"/>
<path d="M590,329.2 Q594,330.5 598,329.2" fill="none" stroke="#333" stroke-width="1.0"/>
<line x1="492.6" y1="183.6" x2="492.6" y2="376.4" stroke="#777" stroke-width="0.8"/>
<line x1="608.6" y1="184" x2="608.6" y2="288" stroke="#777" stroke-width="0.8"/>
<line x1="492.6" y1="185" x2="608.6" y2="185" stroke="#777" stroke-width="0.8"/>
<polygon points="492.60,185.00 498.60,183.20 498.60,186.80" fill="#222"/>
<polygon points="608.60,185.00 602.60,183.20 602.60,186.80" fill="#222"/>
<text x="550" y="182.32" font-size="8.4" text-anchor="middle" fill="#333">122</text>
<line x1="513.4" y1="207" x2="513.4" y2="216" stroke="#777" stroke-width="0.8"/>
<line x1="538.4" y1="207" x2="538.4" y2="216" stroke="#777" stroke-width="0.8"/>
<line x1="513.4" y1="208.3" x2="538.4" y2="208.3" stroke="#777" stroke-width="0.8"/>
<polygon points="513.40,208.30 519.40,206.50 519.40,210.10" fill="#222"/>
<polygon points="538.40,208.30 532.40,206.50 532.40,210.10" fill="#222"/>
<text x="525.4" y="205.62" font-size="8.4" text-anchor="middle" fill="#333">G 1/2</text>
<line x1="484.3" y1="217.4" x2="511.4" y2="217.4" stroke="#777" stroke-width="0.8"/>
<line x1="483.6" y1="335.7" x2="490.7" y2="335.7" stroke="#777" stroke-width="0.8"/>
<line x1="485.4" y1="217.9" x2="485.4" y2="335.4" stroke="#777" stroke-width="0.8"/>
<polygon points="485.40,217.90 483.60,223.90 487.20,223.90" fill="#222"/>
<polygon points="485.40,335.40 483.60,329.40 487.20,329.40" fill="#222"/>
<text transform="translate(479.3,276.2) rotate(-90)" x="0" y="3.02" font-size="8.4" text-anchor="middle" fill="#333">135</text>
<line x1="477.1" y1="296.4" x2="506.5" y2="296.4" stroke="#777" stroke-width="0.8"/>
<line x1="477.1" y1="320.9" x2="514" y2="320.9" stroke="#777" stroke-width="0.8"/>
<line x1="478.3" y1="296.4" x2="478.3" y2="320.9" stroke="#777" stroke-width="0.8"/>
<polygon points="478.30,296.40 476.50,302.40 480.10,302.40" fill="#222"/>
<polygon points="478.30,320.90 476.50,314.90 480.10,314.90" fill="#222"/>
<text transform="translate(472.9,309.2) rotate(-90)" x="0" y="3.02" font-size="8.4" text-anchor="middle" fill="#333">2 x G 1/2</text>
<line x1="492.3" y1="316.5" x2="502" y2="307.5" stroke="#777" stroke-width="0.8"/>
<polygon points="502.6,306.9 497.7,309.6 499.9,311.8" fill="#222"/>
<line x1="519" y1="337.5" x2="519" y2="348" stroke="#777" stroke-width="0.8"/>
<line x1="492.6" y1="346.2" x2="519" y2="346.2" stroke="#777" stroke-width="0.8"/>
<polygon points="492.60,346.20 498.60,344.40 498.60,348.00" fill="#222"/>
<polygon points="519.00,346.20 513.00,344.40 513.00,348.00" fill="#222"/>
<text x="505.4" y="355.82" font-size="8.4" text-anchor="middle" fill="#333">G 1/2</text>
<line x1="595.7" y1="237.1" x2="620.7" y2="237.1" stroke="#777" stroke-width="0.8"/>
<line x1="610" y1="377" x2="621" y2="377" stroke="#777" stroke-width="0.8"/>
<line x1="619.3" y1="237.3" x2="619.3" y2="376.9" stroke="#777" stroke-width="0.8"/>
<polygon points="619.30,237.30 617.50,243.30 621.10,243.30" fill="#222"/>
<polygon points="619.30,376.90 617.50,370.90 621.10,370.90" fill="#222"/>
<text transform="translate(625,307.1) rotate(90)" x="0" y="3.02" font-size="8.4" text-anchor="middle" fill="#333">155</text>
<line x1="538.6" y1="369.8" x2="554.3" y2="369.8" stroke="#777" stroke-width="0.8"/>
<polygon points="554.30,369.80 548.30,368.00 548.30,371.60" fill="#222"/>
<line x1="556.9" y1="369.8" x2="567" y2="369.8" stroke="#777" stroke-width="0.8"/>
<polygon points="556.90,369.80 562.90,368.00 562.90,371.60" fill="#222"/>
<text x="540.7" y="366.82" font-size="8.4" text-anchor="middle" fill="#333">2</text>
<line x1="492.6" y1="374.3" x2="555.7" y2="374.3" stroke="#777" stroke-width="0.8"/>
<polygon points="492.60,374.30 498.60,372.50 498.60,376.10" fill="#222"/>
<polygon points="555.70,374.30 549.70,372.50 549.70,376.10" fill="#222"/>
<text x="524.3" y="383.82" font-size="8.4" text-anchor="middle" fill="#333">60-75</text>
<path d="M111.4,466.5 Q111.4,462.5 115.4,462.5 L163.9,462.5 Q167.9,462.5 167.9,466.5 L167.9,553.1 Q167.9,557.1 163.9,557.1 L155.2,557.1" fill="none" stroke="#555" stroke-width="0.9"/>
<path d="M124.1,557.1 L115.4,557.1 Q111.4,557.1 111.4,553.1 L111.4,466.5" fill="none" stroke="#555" stroke-width="0.9"/>
<path d="M124.4,664.5 L123.6,491.4 Q123.6,487.2 127.8,487.2 L151.5,487.2 Q155.7,487.2 155.7,491.4 L154.4,664.5 L152.4,664.5 L152.6,492 Q152.6,489.4 150,489.4 L129,489.4 Q126.4,489.4 126.4,492 L126.6,664.5 Z" fill="#d0d0d0" stroke="#777" stroke-width="0.6"/>
<path d="M124.4,664 L123.6,491.4 Q123.6,487.2 127.8,487.2 L151.5,487.2 Q155.7,487.2 155.7,491.4 L154.4,664" fill="none" stroke="#555" stroke-width="0.9"/>
<path d="M124.4,664.5 Q124.6,668 128,668 L134.3,668" fill="none" stroke="#555" stroke-width="0.9"/>
<path d="M144.9,668 L151,668 Q154.3,668 154.4,664.5" fill="none" stroke="#555" stroke-width="0.9"/>
<line x1="123.8" y1="543.2" x2="155.4" y2="543.2" stroke="#555" stroke-width="0.6"/>
<line x1="124" y1="570.2" x2="155.1" y2="570.2" stroke="#555" stroke-width="0.7"/>
<rect x="134.3" y="655" width="10.599999999999994" height="14.299999999999955" fill="none" stroke="#555" stroke-width="0.8"/>
<ellipse cx="139.6" cy="656.5" rx="3.6" ry="0.9" fill="none" stroke="#777" stroke-width="0.5"/>
<path d="M130.3,669.5 L148.8,669.5 L148.8,675.5 Q148.8,677.7 146.5,677.7 L132.6,677.7 Q130.3,677.7 130.3,675.5 Z" fill="#555" stroke="#333" stroke-width="0.6"/>
<line x1="111.4" y1="444.8" x2="111.4" y2="460.6" stroke="#777" stroke-width="0.8"/>
<line x1="167.9" y1="444.8" x2="167.9" y2="460.6" stroke="#777" stroke-width="0.8"/>
<line x1="111.4" y1="446.7" x2="167.9" y2="446.7" stroke="#777" stroke-width="0.8"/>
<polygon points="111.40,446.70 117.40,444.90 117.40,448.50" fill="#222"/>
<polygon points="167.90,446.70 161.90,444.90 161.90,448.50" fill="#222"/>
<text x="139.6" y="444.12" font-size="8.4" text-anchor="middle" fill="#333">65</text>
<line x1="169.6" y1="462" x2="181.6" y2="462" stroke="#777" stroke-width="0.8"/>
<line x1="148" y1="678.3" x2="181.1" y2="678.3" stroke="#777" stroke-width="0.8"/>
<line x1="179.4" y1="462.2" x2="179.4" y2="678.2" stroke="#777" stroke-width="0.8"/>
<polygon points="179.40,462.20 177.60,468.20 181.20,468.20" fill="#222"/>
<polygon points="179.40,678.20 177.60,672.20 181.20,672.20" fill="#222"/>
<text transform="translate(185.2,570) rotate(90)" x="0" y="3.02" font-size="8.4" text-anchor="middle" fill="#333">249</text>
<text x="139.4" y="688.22" font-size="8.4" text-anchor="middle" fill="#333">G1/2</text>
<path d="M217.2,464.5 Q217.2,462.2 219.5,462.2 L223.5,462.2 Q225.8,462.2 225.8,464.5 L225.8,555 Q225.8,557.2 223.5,557.2 L219.5,557.2 Q217.2,557.2 217.2,555 Z" fill="none" stroke="#555" stroke-width="0.9"/>
<line x1="217.3" y1="466.2" x2="225.8" y2="466.2" stroke="#555" stroke-width="0.6"/>
<line x1="217.3" y1="552.9" x2="225.8" y2="552.9" stroke="#555" stroke-width="0.6"/>
<line x1="217.2" y1="468" x2="217.2" y2="552" stroke="#333" stroke-width="1.1" stroke-dasharray="1 1.2"/>
<rect x="226.1" y="488.5" width="8.300000000000011" height="55.0" fill="none" stroke="#555" stroke-width="0.9"/>
<line x1="226.1" y1="491.9" x2="234.4" y2="491.9" stroke="#555" stroke-width="0.6"/>
<path d="M217.2,540 L213,540 Q212,540 212,541.7 Q212,543.5 213,543.5 L217.2,543.5" fill="none" stroke="#555" stroke-width="0.8"/>
<path d="M218.4,557.2 Q217.6,563 217,569 L194.5,652" fill="none" stroke="#555" stroke-width="0.9"/>
<path d="M219.9,557.2 Q219.1,563 218.5,569.3 L196,652.5" fill="none" stroke="#555" stroke-width="0.5"/>
<path d="M233,543.5 Q235,553 232,564 Q227,582 219,608 L206.5,654" fill="none" stroke="#555" stroke-width="0.9"/>
<line x1="217.5" y1="568" x2="229.5" y2="575.5" stroke="#555" stroke-width="0.7"/>
<path d="M194.5,652 L192,665.5 L205.5,668.5 L207.2,657.5" fill="none" stroke="#555" stroke-width="0.7"/>
<line x1="193" y1="661.5" x2="206.2" y2="664.8" stroke="#555" stroke-width="0.6"/>
<polygon points="188,666.8 205,669.9 204,677.8 187,674.8" fill="#444" stroke="#333" stroke-width="0.6"/>
<line x1="216.6" y1="448.5" x2="216.6" y2="460" stroke="#777" stroke-width="0.8"/>
<line x1="234.8" y1="448.5" x2="234.8" y2="485.7" stroke="#777" stroke-width="0.8"/>
<line x1="216.6" y1="450.8" x2="234.8" y2="450.8" stroke="#777" stroke-width="0.8"/>
<polygon points="216.60,450.80 222.60,449.00 222.60,452.60" fill="#222"/>
<polygon points="234.80,450.80 228.80,449.00 228.80,452.60" fill="#222"/>
<text x="225.5" y="446.42" font-size="8.4" text-anchor="middle" fill="#333">20,75</text>
<line x1="186.2" y1="675" x2="186.2" y2="688.5" stroke="#777" stroke-width="0.8"/>
<line x1="234.3" y1="561" x2="234.3" y2="688.5" stroke="#777" stroke-width="0.8"/>
<line x1="186.2" y1="686.5" x2="234.3" y2="686.5" stroke="#777" stroke-width="0.8"/>
<polygon points="186.20,686.50 192.20,684.70 192.20,688.30" fill="#222"/>
<polygon points="234.30,686.50 228.30,684.70 228.30,688.30" fill="#222"/>
<text x="210.6" y="695.72" font-size="8.4" text-anchor="middle" fill="#333">55,3</text>
<rect x="360.7" y="462.9" width="11.400000000000034" height="59.80000000000007" fill="none" stroke="#555" stroke-width="0.9"/>
<line x1="372.1" y1="475.8" x2="443.3" y2="475.8" stroke="#555" stroke-width="0.9"/>
<line x1="372.1" y1="509.8" x2="443.3" y2="509.8" stroke="#555" stroke-width="0.9"/>
<line x1="443.3" y1="475.8" x2="443.3" y2="509.8" stroke="#555" stroke-width="0.9"/>
<path d="M360.7,480.6 L338.6,480.6 Q336.4,480.6 336.4,482.8 L336.4,503.2 Q336.4,505.4 338.6,505.4 L360.7,505.4" fill="none" stroke="#555" stroke-width="0.8"/>
<line x1="337.6" y1="505" x2="339.8" y2="481" stroke="#888" stroke-width="0.5"/>
<line x1="340.6" y1="505" x2="342.8" y2="481" stroke="#888" stroke-width="0.5"/>
<line x1="343.6" y1="505" x2="345.8" y2="481" stroke="#888" stroke-width="0.5"/>
<line x1="346.6" y1="505" x2="348.8" y2="481" stroke="#888" stroke-width="0.5"/>
<line x1="349.6" y1="505" x2="351.8" y2="481" stroke="#888" stroke-width="0.5"/>
<line x1="352.6" y1="505" x2="354.8" y2="481" stroke="#888" stroke-width="0.5"/>
<line x1="355.6" y1="505" x2="357.8" y2="481" stroke="#888" stroke-width="0.5"/>
<line x1="358.6" y1="505" x2="360.8" y2="481" stroke="#888" stroke-width="0.5"/>
<line x1="334" y1="492.3" x2="377.2" y2="492.3" stroke="#777" stroke-width="0.7"/>
<path d="M386.7,509.8 L386.7,520.2 Q386.7,522 388.5,522 L411.1,522 Q412.9,522 412.9,520.2 L412.9,509.8" fill="none" stroke="#555" stroke-width="0.8"/>
<line x1="387.2" y1="512.5" x2="412.4" y2="511.2" stroke="#888" stroke-width="0.5"/>
<line x1="387.2" y1="515.4" x2="412.4" y2="514.1" stroke="#888" stroke-width="0.5"/>
<line x1="387.2" y1="518.3" x2="412.4" y2="517.0" stroke="#888" stroke-width="0.5"/>
<line x1="387.2" y1="521.2" x2="412.4" y2="519.9000000000001" stroke="#888" stroke-width="0.5"/>
<line x1="399.6" y1="504.9" x2="399.6" y2="528" stroke="#777" stroke-width="0.7" stroke-dasharray="4 1.5 1 1.5"/>
<line x1="321.9" y1="480.6" x2="335.2" y2="480.6" stroke="#777" stroke-width="0.8"/>
<line x1="321.9" y1="505.4" x2="335.2" y2="505.4" stroke="#777" stroke-width="0.8"/>
<line x1="323.1" y1="480.6" x2="323.1" y2="505.4" stroke="#777" stroke-width="0.8"/>
<polygon points="323.10,480.60 321.30,486.60 324.90,486.60" fill="#222"/>
<polygon points="323.10,505.40 321.30,499.40 324.90,499.40" fill="#222"/>
<text transform="translate(317,493) rotate(-90)" x="0" y="3.02" font-size="8.4" text-anchor="middle" fill="#333">G1/2</text>
<line x1="445.7" y1="475.8" x2="453" y2="475.8" stroke="#777" stroke-width="0.8"/>
<line x1="445.7" y1="509.8" x2="453" y2="509.8" stroke="#777" stroke-width="0.8"/>
<line x1="450.6" y1="475.8" x2="450.6" y2="509.8" stroke="#777" stroke-width="0.8"/>
<polygon points="450.60,475.80 448.80,481.80 452.40,481.80" fill="#222"/>
<polygon points="450.60,509.80 448.80,503.80 452.40,503.80" fill="#222"/>
<text transform="translate(457.4,492.8) rotate(90)" x="0" y="3.02" font-size="8.4" text-anchor="middle" fill="#333">28</text>
<line x1="386.7" y1="523" x2="386.7" y2="535" stroke="#777" stroke-width="0.8"/>
<line x1="412.9" y1="523" x2="412.9" y2="535" stroke="#777" stroke-width="0.8"/>
<line x1="386.7" y1="533.6" x2="412.9" y2="533.6" stroke="#777" stroke-width="0.8"/>
<polygon points="386.70,533.60 392.70,531.80 392.70,535.40" fill="#222"/>
<polygon points="412.90,533.60 406.90,531.80 406.90,535.40" fill="#222"/>
<text x="399.4" y="543.32" font-size="8.4" text-anchor="middle" fill="#333">G1/2</text>
<line x1="399.6" y1="528" x2="399.6" y2="550.5" stroke="#777" stroke-width="0.8"/>
<line x1="360.7" y1="549.4" x2="399.6" y2="549.4" stroke="#777" stroke-width="0.8"/>
<polygon points="360.70,549.40 366.70,547.60 366.70,551.20" fill="#222"/>
<polygon points="399.60,549.40 393.60,547.60 393.60,551.20" fill="#222"/>
<text x="380.1" y="557.92" font-size="8.4" text-anchor="middle" fill="#333">32</text>
<line x1="336.4" y1="506" x2="336.4" y2="565.6" stroke="#777" stroke-width="0.8"/>
<line x1="360.7" y1="523.5" x2="360.7" y2="565.6" stroke="#777" stroke-width="0.8"/>
<line x1="443.3" y1="511" x2="443.3" y2="565.6" stroke="#777" stroke-width="0.8"/>
<line x1="336.4" y1="564" x2="360.7" y2="564" stroke="#777" stroke-width="0.8"/>
<polygon points="336.40,564.00 342.40,562.20 342.40,565.80" fill="#222"/>
<polygon points="360.70,564.00 354.70,562.20 354.70,565.80" fill="#222"/>
<text x="348.6" y="572.92" font-size="8.4" text-anchor="middle" fill="#333">20</text>
<line x1="360.7" y1="564" x2="443.3" y2="564" stroke="#777" stroke-width="0.8"/>
<polygon points="360.70,564.00 366.70,562.20 366.70,565.80" fill="#222"/>
<polygon points="443.30,564.00 437.30,562.20 437.30,565.80" fill="#222"/>
<text x="403.2" y="572.92" font-size="8.4" text-anchor="middle" fill="#333">69</text>
<rect x="360.7" y="602.4" width="10.900000000000034" height="59.5" fill="none" stroke="#555" stroke-width="0.9"/>
<path d="M371.6,615.3 L442,615.3 Q443.2,615.3 443.2,616.5 L443.2,620.6 Q443.2,621.6 442,621.6 Q441.2,621.6 440.6,621.2 A13.8,13.8 0 1 0 440.6,643.8 Q441.2,643.4 442,643.4 Q443.2,643.4 443.2,644.4 L443.2,647.2 Q443.2,648.4 442,648.4 L371.6,648.4" fill="none" stroke="#555" stroke-width="0.9"/>
<path d="M360.7,620 L338.6,620 Q336.4,620 336.4,622.2 L336.4,642 Q336.4,644.2 338.6,644.2 L360.7,644.2" fill="none" stroke="#555" stroke-width="0.8"/>
<line x1="337.6" y1="643.8" x2="339.8" y2="620.4" stroke="#888" stroke-width="0.5"/>
<line x1="340.6" y1="643.8" x2="342.8" y2="620.4" stroke="#888" stroke-width="0.5"/>
<line x1="343.6" y1="643.8" x2="345.8" y2="620.4" stroke="#888" stroke-width="0.5"/>
<line x1="346.6" y1="643.8" x2="348.8" y2="620.4" stroke="#888" stroke-width="0.5"/>
<line x1="349.6" y1="643.8" x2="351.8" y2="620.4" stroke="#888" stroke-width="0.5"/>
<line x1="352.6" y1="643.8" x2="354.8" y2="620.4" stroke="#888" stroke-width="0.5"/>
<line x1="355.6" y1="643.8" x2="357.8" y2="620.4" stroke="#888" stroke-width="0.5"/>
<line x1="358.6" y1="643.8" x2="360.8" y2="620.4" stroke="#888" stroke-width="0.5"/>
<line x1="334" y1="632.1" x2="377.2" y2="632.1" stroke="#777" stroke-width="0.7"/>
<line x1="318.2" y1="602.4" x2="358.5" y2="602.4" stroke="#777" stroke-width="0.8"/>
<line x1="318.2" y1="661.9" x2="358.5" y2="661.9" stroke="#777" stroke-width="0.8"/>
<line x1="319.9" y1="602.4" x2="319.9" y2="661.9" stroke="#777" stroke-width="0.8"/>
<polygon points="319.90,602.40 318.10,608.40 321.70,608.40" fill="#222"/>
<polygon points="319.90,661.90 318.10,655.90 321.70,655.90" fill="#222"/>
<text transform="translate(314.6,632.1) rotate(-90)" x="0" y="3.02" font-size="8.4" text-anchor="middle" fill="#333">50x50</text>
<line x1="445" y1="615.1" x2="454" y2="615.1" stroke="#777" stroke-width="0.8"/>
<line x1="445" y1="648.3" x2="454" y2="648.3" stroke="#777" stroke-width="0.8"/>
<line x1="452.5" y1="615.1" x2="452.5" y2="648.3" stroke="#777" stroke-width="0.8"/>
<polygon points="452.50,615.10 450.70,621.10 454.30,621.10" fill="#222"/>
<polygon points="452.50,648.30 450.70,642.30 454.30,642.30" fill="#222"/>
<text transform="translate(458.3,632.1) rotate(90)" x="0" y="3.02" font-size="8.4" text-anchor="middle" fill="#333">28</text>
<line x1="360.7" y1="588.4" x2="360.7" y2="601" stroke="#777" stroke-width="0.8"/>
<line x1="371.6" y1="588.4" x2="371.6" y2="601" stroke="#777" stroke-width="0.8"/>
<line x1="351" y1="592.5" x2="360.7" y2="592.5" stroke="#777" stroke-width="0.8"/>
<polygon points="360.70,592.50 354.70,590.70 354.70,594.30" fill="#222"/>
<line x1="371.6" y1="592.5" x2="389.9" y2="592.5" stroke="#777" stroke-width="0.8"/>
<polygon points="371.60,592.50 377.60,590.70 377.60,594.30" fill="#222"/>
<text x="383.8" y="589.72" font-size="8.4" text-anchor="middle" fill="#333">8,5</text>
<polygon points="535.4,476.2 560.3,476.2 558.1,514.3 537.7,514.3" fill="none" stroke="#777" stroke-width="0.9"/>
<line x1="539.4" y1="514.3" x2="539.4" y2="555.5" stroke="#777" stroke-width="0.9"/>
<line x1="556.5" y1="514.3" x2="556.5" y2="555.5" stroke="#777" stroke-width="0.9"/>
<path d="M539.4,555.5 Q543,552.5 547.5,555.5 Q552,558.5 556.5,555.5" fill="none" stroke="#555" stroke-width="0.7"/>
<path d="M539.4,559.5 Q543,556.5 547.5,559.5 Q552,562.5 556.5,559.5" fill="none" stroke="#555" stroke-width="0.7"/>
<line x1="539.4" y1="559.5" x2="539.4" y2="619.6" stroke="#777" stroke-width="0.9"/>
<line x1="556.5" y1="559.5" x2="556.5" y2="619.6" stroke="#777" stroke-width="0.9"/>
<polygon points="537.6,619.6 559,619.6 561,658 535.6,658" fill="none" stroke="#777" stroke-width="0.9"/>
<line x1="548" y1="471.4" x2="548" y2="661" stroke="#999" stroke-width="0.8" stroke-dasharray="2 1"/>
<line x1="535.4" y1="462" x2="535.4" y2="474.5" stroke="#777" stroke-width="0.8"/>
<line x1="560.3" y1="462" x2="560.3" y2="474.5" stroke="#777" stroke-width="0.8"/>
<line x1="535.4" y1="463.7" x2="560.3" y2="463.7" stroke="#777" stroke-width="0.8"/>
<polygon points="535.40,463.70 541.40,461.90 541.40,465.50" fill="#222"/>
<polygon points="560.30,463.70 554.30,461.90 554.30,465.50" fill="#222"/>
<text x="547.8" y="460.72" font-size="8.4" text-anchor="middle" fill="#333">G1/2</text>
<line x1="561.2" y1="476.2" x2="571.5" y2="476.2" stroke="#777" stroke-width="0.8"/>
<line x1="561" y1="658" x2="572" y2="658" stroke="#777" stroke-width="0.8"/>
<line x1="570.5" y1="476.2" x2="570.5" y2="658" stroke="#777" stroke-width="0.8"/>
<polygon points="570.50,476.20 568.70,482.20 572.30,482.20" fill="#222"/>
<polygon points="570.50,658.00 568.70,652.00 572.30,652.00" fill="#222"/>
<text transform="translate(576.4,566.4) rotate(90)" x="0" y="3.02" font-size="8.4" text-anchor="middle" fill="#333">1500</text>
<line x1="535.6" y1="659.5" x2="535.6" y2="671" stroke="#777" stroke-width="0.8"/>
<line x1="561" y1="659.5" x2="561" y2="671" stroke="#777" stroke-width="0.8"/>
<line x1="535.6" y1="669.6" x2="561" y2="669.6" stroke="#777" stroke-width="0.8"/>
<polygon points="535.60,669.60 541.60,667.80 541.60,671.40" fill="#222"/>
<polygon points="561.00,669.60 555.00,667.80 555.00,671.40" fill="#222"/>
<text x="548" y="680.22" font-size="8.4" text-anchor="middle" fill="#333">G1/2</text>
</svg>
</body></html>
